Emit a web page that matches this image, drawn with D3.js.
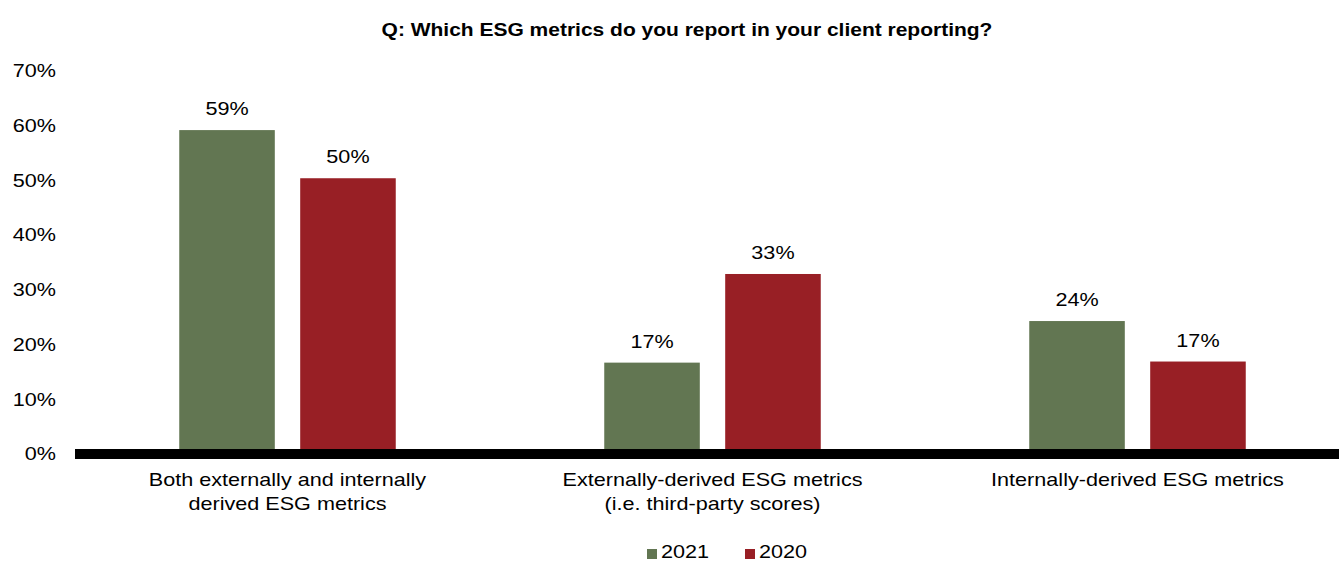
<!DOCTYPE html>
<html>
<head>
<meta charset="utf-8">
<script src="https://cdn.jsdelivr.net/npm/d3@7"></script>
<style>
    body { margin: 0; background: #fff; }
    svg { display: block; font-family: "Liberation Sans", Arial, sans-serif; }
</style>
</head>
<body>
<svg id="chart" width="1339" height="562"></svg>
<script>
// data
var categories = [
    ["Both externally and internally", "derived ESG metrics"],
    ["Externally-derived ESG metrics", "(i.e. third-party scores)"],
    ["Internally-derived ESG metrics"]
];
var seriesNames = ["2021", "2020"];
var values2021 = [59.2, 16.7, 24.3];
var values2020 = [50.4, 32.9, 16.9];
var yTicks = [0, 10, 20, 30, 40, 50, 60, 70];
var colors = {"2021": "#627652", "2020": "#981f25"};

// the source text is a bit wider than plain Arial
var stretch = "scale(1.2,1)";

var svg = d3.select("#chart");

var x0 = d3.scaleBand()
    .domain(d3.range(categories.length))
    .range([75, 1350])
    .padding(0);

var groupWidth = 216.5;
var x1 = d3.scaleBand()
    .domain(seriesNames)
    .range([0, groupWidth])
    .paddingInner(0.21);

var y = d3.scaleLinear()
    .domain([0, 70])
    .range([454, 71]);

// put a text at (x, y) with the horizontal stretch
function addText(parent, x, y, str, anchor) {
    return parent.append("text")
        .attr("transform", "translate(" + x + "," + y + ") " + stretch)
        .attr("text-anchor", anchor || "middle")
        .style("font-size", "18px")
        .text(str);
}

// title
addText(svg, 687, 36, "Q: Which ESG metrics do you report in your client reporting?")
    .style("font-size", "17.5px")
    .style("font-weight", "bold");

// y axis, labels only
var yAxis = svg.append("g")
    .attr("transform", "translate(56,0)")
    .call(d3.axisLeft(y).tickValues(yTicks).tickSize(0).tickPadding(0)
        .tickFormat(function(d) { return d + "%"; }));
yAxis.select(".domain").remove();
yAxis.selectAll("text")
    .attr("transform", stretch)
    .style("font-size", "18px")
    .style("font-family", "'Liberation Sans', Arial, sans-serif")
    .attr("fill", "#000");

// bars
var rows = categories.map(function(c, i) {
    return [{"s": "2021", "v": values2021[i]}, {"s": "2020", "v": values2020[i]}];
});

var groups = svg.selectAll("g.group")
    .data(rows)
    .enter().append("g")
    .attr("class", "group")
    .attr("transform", function(d, i) {
        return "translate(" + (x0(i) + (x0.bandwidth() - groupWidth) / 2) + ",0)";
    });

groups.selectAll("rect")
    .data(function(d) { return d; })
    .enter().append("rect")
    .attr("x", function(d) { return x1(d.s); })
    .attr("y", function(d) { return y(d.v); })
    .attr("width", x1.bandwidth())
    .attr("height", function(d) { return y(0) - y(d.v); })
    .attr("fill", function(d) { return colors[d.s]; });

groups.each(function(row) {
    var g = d3.select(this);
    row.forEach(function(d) {
        addText(g, x1(d.s) + x1.bandwidth() / 2, y(d.v) - 15, Math.round(d.v) + "%");
    });
});

// zero line
svg.append("line")
    .attr("x1", 75)
    .attr("x2", 1339)
    .attr("y1", y(0))
    .attr("y2", y(0))
    .attr("stroke", "#000")
    .attr("stroke-width", 10);

// category labels
categories.forEach(function(lines, i) {
    lines.forEach(function(l, j) {
        addText(svg, x0(i) + x0.bandwidth() / 2, 486 + j * 24, l);
    });
});

// legend
var legendX = [647, 745];
seriesNames.forEach(function(s, i) {
    svg.append("rect")
        .attr("x", legendX[i])
        .attr("y", 549)
        .attr("width", 10)
        .attr("height", 10)
        .attr("fill", colors[s]);
    addText(svg, legendX[i] + 14, 558, s, "start");
});
</script>
</body>
</html>
